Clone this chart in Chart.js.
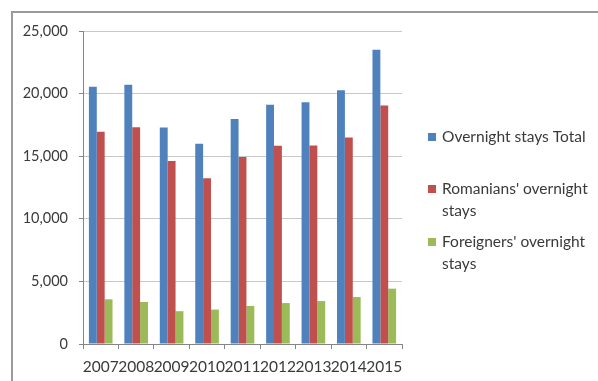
<!DOCTYPE html>
<html>
<head>
<meta charset="utf-8">
<script src="https://cdn.jsdelivr.net/npm/chart.js@4/dist/chart.umd.min.js"></script>
<style>
    html, body { margin: 0; padding: 0; background: #fff; }
    body { width: 598px; height: 381px; overflow: hidden; position: relative; }
    /* chart frame: only the top and left edges show */
    .frame {
        position: absolute; left: 11px; top: 11px; width: 700px; height: 500px;
        border-left: 2px solid #9a9a9a; border-top: 2px solid #9a9a9a;
    }
    #wrap { position: absolute; left: 0; top: 0; width: 598px; height: 381px; }
</style>
</head>
<body>
<div class="frame"></div>
<div id="wrap"><canvas id="staysChart"></canvas></div>
<script>
// Overnight stays by year (thousands)
const years = ['2007', '2008', '2009', '2010', '2011', '2012', '2013', '2014', '2015'];
const totalStays = [20550, 20700, 17300, 16000, 17980, 19100, 19300, 20260, 23500];
const romanianStays = [16960, 17320, 14620, 13230, 14940, 15840, 15850, 16500, 19050];
const foreignStays = [3570, 3360, 2620, 2750, 3040, 3270, 3430, 3750, 4420];

const seriesNames = [
    ['Overnight stays Total'],
    ["Romanians' overnight", 'stays'],
    ["Foreigners' overnight", 'stays']
];
const seriesColors = ['#4f81bd', '#c0504d', '#9bbb59'];

const textColor = '#3a3a3a';
const fontFamily = 'Lato, "Open Sans", sans-serif';

// Legend drawn to the right of the plot, one block per series
const sideLegend = {
    id: 'sideLegend',
    afterDraw(chart) {
        const ctx = chart.ctx;
        const x = chart.chartArea.right + 26;
        const tops = [137, 189, 242];
        ctx.save();
        ctx.font = '15.5px ' + fontFamily;
        ctx.textBaseline = 'middle';
        seriesNames.forEach((lines, i) => {
            ctx.fillStyle = seriesColors[i];
            ctx.fillRect(x, tops[i] - 4, 8, 8);
            ctx.fillStyle = textColor;
            lines.forEach((line, j) => {
                ctx.fillText(line, x + 14, tops[i] + j * 22);
            });
        });
        ctx.restore();
    }
};

const datasets = [totalStays, romanianStays, foreignStays].map((values, i) => ({
    label: seriesNames[i].join(' '),
    data: values,
    backgroundColor: seriesColors[i],
    borderWidth: 0,
    categoryPercentage: 3 / 4.5,
    barPercentage: 1
}));

new Chart(document.getElementById('staysChart'), {
    type: 'bar',
    data: { labels: years, datasets },
    plugins: [sideLegend],
    options: {
        responsive: true,
        maintainAspectRatio: false,
        animation: false,
        layout: { padding: { left: 0, top: 31, right: 196, bottom: 0 } },
        plugins: {
            legend: { display: false },
            tooltip: { enabled: false }
        },
        scales: {
            x: {
                offset: true,
                grid: {
                    offset: true,
                    drawOnChartArea: false,
                    tickLength: 5,
                    tickColor: '#868686'
                },
                border: { color: '#868686' },
                ticks: {
                    color: textColor,
                    font: { family: fontFamily, size: 15.5 },
                    padding: 9,
                    maxRotation: 0,
                    autoSkip: false
                },
                afterFit(scale) { scale.height = 37; }
            },
            y: {
                min: 0,
                max: 25000,
                grid: {
                    color: '#c8c8c8',
                    tickLength: 4,
                    tickColor: '#868686'
                },
                border: { color: '#868686' },
                ticks: {
                    stepSize: 5000,
                    color: textColor,
                    font: { family: fontFamily, size: 14.5 },
                    padding: 11,
                    callback: v => v.toLocaleString('en-US')
                },
                afterFit(scale) { scale.width = 83; }
            }
        }
    }
});
</script>
</body>
</html>
